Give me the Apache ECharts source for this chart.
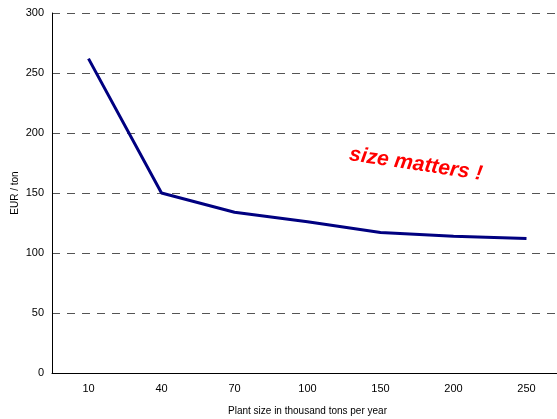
<!DOCTYPE html>
<html>
<head>
<meta charset="utf-8">
<script src="https://cdn.jsdelivr.net/npm/echarts@6/dist/echarts.min.js"></script>
<style>
  html, body { margin: 0; padding: 0; background: #fff; }
  #chart { width: 557px; height: 419px; }
</style>
</head>
<body>
<div id="chart"></div>
<script>
// Plant size (thousand tons per year) and cost per ton
const plantSizes = ['10', '40', '70', '100', '150', '200', '250'];
const costPerTon = [262, 150, 134, 126, 117, 114, 112];
const yTicks = { min: 0, max: 300, interval: 50 };

const chart = echarts.init(document.getElementById('chart'));
chart.setOption({
  animation: false,
  grid: { left: 52, right: -6, top: 13, bottom: 46, containLabel: false, outerBoundsMode: 'none' },
  xAxis: {
    type: 'category',
    data: plantSizes,
    boundaryGap: true,
    name: 'Plant size in thousand tons per year',
    nameLocation: 'middle',
    nameGap: 33,
    nameMoveOverlap: false,
    nameTextStyle: { fontFamily: 'Liberation Sans', fontSize: 10, color: '#000' },
    axisLine: { lineStyle: { color: '#000', width: 1 } },
    axisTick: { show: false },
    axisLabel: { fontFamily: 'Liberation Sans', fontSize: 11, color: '#000', margin: 10 }
  },
  yAxis: {
    type: 'value',
    min: yTicks.min,
    max: yTicks.max,
    interval: yTicks.interval,
    name: 'EUR / ton',
    nameLocation: 'middle',
    nameGap: 32,
    nameMoveOverlap: false,
    nameTextStyle: { fontFamily: 'Liberation Sans', fontSize: 10, color: '#000' },
    axisLine: { show: true, lineStyle: { color: '#000', width: 1 } },
    axisTick: { show: false },
    axisLabel: { fontFamily: 'Liberation Sans', fontSize: 11, color: '#000', margin: 8 },
    splitLine: { show: true, lineStyle: { color: '#555', type: [8, 7], width: 1 } }
  },
  series: [{
    type: 'line',
    data: costPerTon,
    symbol: 'none',
    lineStyle: { color: '#000080', width: 3 },
    z: 3
  }],
  graphic: [{
    type: 'text',
    x: 351,
    y: 144,
    rotation: -8.5 * Math.PI / 180,
    style: {
      text: 'size matters !',
      fill: '#ff0000',
      font: 'italic bold 21px "Liberation Sans"'
    }
  }]
});
</script>
</body>
</html>
